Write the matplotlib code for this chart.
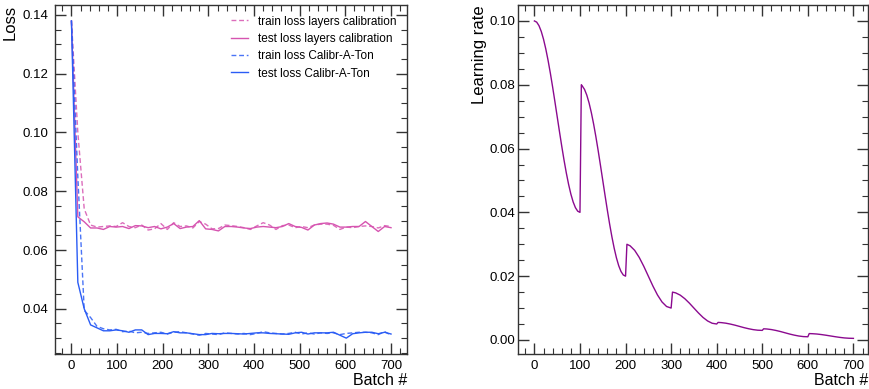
import matplotlib
matplotlib.use("Agg")
import matplotlib.pyplot as plt
from matplotlib.ticker import MultipleLocator

plt.rcParams['font.family'] = ['Liberation Sans', 'DejaVu Sans']

# ---- data ----
batches = list(range(0, 701, 14))

train_layers = [0.138, 0.100, 0.074, 0.0685, 0.0678, 0.0680, 0.0682, 0.0680, 0.0693, 0.0680,
                0.0676, 0.0685, 0.0668, 0.0672, 0.0690, 0.0670, 0.0693, 0.0680, 0.0682, 0.0675,
                0.0697, 0.0688, 0.0672, 0.0673, 0.0685, 0.0683, 0.0680, 0.0676, 0.0670, 0.0682,
                0.0693, 0.0685, 0.0670, 0.0683, 0.0685, 0.0676, 0.0680, 0.0676, 0.0685, 0.0688,
                0.0688, 0.0684, 0.0670, 0.0678, 0.0676, 0.0680, 0.0682, 0.0680, 0.0675, 0.0683,
                0.0680]
test_layers = [0.138, 0.0713, 0.0696, 0.0675, 0.0675, 0.0670, 0.0680, 0.0678, 0.0680, 0.0673,
               0.0683, 0.0682, 0.0676, 0.0680, 0.0672, 0.0678, 0.0690, 0.0673, 0.0678, 0.0680,
               0.0700, 0.0672, 0.0670, 0.0665, 0.0680, 0.0680, 0.0678, 0.0675, 0.0673, 0.0678,
               0.0680, 0.0678, 0.0676, 0.0680, 0.0690, 0.0680, 0.0677, 0.0668, 0.0685, 0.0690,
               0.0692, 0.0688, 0.0678, 0.0678, 0.0680, 0.0680, 0.0697, 0.0680, 0.0663, 0.0680,
               0.0676]
train_cat = [0.138, 0.085, 0.0395, 0.0370, 0.0340, 0.0332, 0.0328, 0.0330, 0.0322, 0.0324,
             0.0318, 0.0320, 0.0316, 0.0318, 0.0320, 0.0314, 0.0320, 0.0322, 0.0318, 0.0314,
             0.0310, 0.0316, 0.0314, 0.0312, 0.0318, 0.0316, 0.0314, 0.0316, 0.0312, 0.0316,
             0.0322, 0.0318, 0.0316, 0.0314, 0.0316, 0.0320, 0.0314, 0.0318, 0.0314, 0.0318,
             0.0316, 0.0318, 0.0312, 0.0316, 0.0318, 0.0320, 0.0320, 0.0318, 0.0312, 0.0322,
             0.0310]
test_cat = [0.138, 0.049, 0.0400, 0.0345, 0.0335, 0.0325, 0.0325, 0.0328, 0.0325, 0.0320,
            0.0328, 0.0328, 0.0312, 0.0316, 0.0316, 0.0315, 0.0322, 0.0318, 0.0318, 0.0315,
            0.0312, 0.0312, 0.0316, 0.0315, 0.0316, 0.0316, 0.0315, 0.0314, 0.0316, 0.0318,
            0.0318, 0.0316, 0.0315, 0.0314, 0.0313, 0.0318, 0.0320, 0.0314, 0.0318, 0.0318,
            0.0318, 0.0320, 0.0310, 0.0300, 0.0315, 0.0318, 0.0320, 0.0320, 0.0315, 0.0320,
            0.0314]

lr_batch = [0, 5, 10, 15, 20, 25, 30, 35, 40, 45, 50, 55, 60, 65, 70, 75, 80, 85, 90, 95, 100,
            103, 105, 110, 115, 120, 125, 130, 135, 140, 145, 150, 155, 160, 165, 170, 175, 180, 185, 190, 195, 200,
            203, 210, 220, 230, 240, 250, 260, 270, 280, 290, 300,
            303, 310, 320, 330, 340, 350, 360, 370, 380, 390, 400,
            403, 410, 420, 430, 440, 450, 460, 470, 480, 490, 500,
            503, 510, 520, 530, 540, 550, 560, 570, 580, 590, 600,
            603, 610, 620, 630, 640, 650, 660, 670, 680, 690, 700]
lr_value = [0.1, 0.09963, 0.09853, 0.09673, 0.09427, 0.09121, 0.08763, 0.08362, 0.07927, 0.07469, 0.07,
            0.06531, 0.06073, 0.05638, 0.05237, 0.04879, 0.04573, 0.04327, 0.04147, 0.04037, 0.04,
            0.08, 0.07963, 0.07853, 0.07673, 0.07427, 0.07121, 0.06763, 0.06362, 0.05927, 0.05469, 0.05,
            0.04531, 0.04073, 0.03638, 0.03237, 0.02879, 0.02573, 0.02327, 0.02147, 0.02037, 0.02,
            0.03, 0.02951, 0.02809, 0.02588, 0.02309, 0.02, 0.01691, 0.01412, 0.01191, 0.01049, 0.01,
            0.015, 0.01476, 0.01405, 0.01294, 0.01155, 0.01, 0.00846, 0.00706, 0.00596, 0.00524, 0.005,
            0.0055, 0.00544, 0.00526, 0.00498, 0.00464, 0.00425, 0.00386, 0.00352, 0.00324, 0.00306, 0.003,
            0.0035, 0.00344, 0.00326, 0.00298, 0.00264, 0.00225, 0.00186, 0.00152, 0.00124, 0.00106, 0.001,
            0.002, 0.00196, 0.00186, 0.00169, 0.00148, 0.00125, 0.00102, 0.00081, 0.00064, 0.00054, 0.0005]

labels = ["train loss layers calibration", "test loss layers calibration",
          "train loss Calibr-A-Ton", "test loss Calibr-A-Ton"]

PINK = '#d654b0'
BLUE = '#2a5cf5'
PURPLE = '#8b0a8f'

fig = plt.figure(figsize=(8.69, 3.89), dpi=100)
ax1 = fig.add_axes([55/869, 35/389, 352/869, 349/389])
ax2 = fig.add_axes([518/869, 35/389, 350/869, 349/389])

dash = (0, (3.5, 2))
ax1.plot(batches, train_layers, color=PINK, lw=1.0, ls=dash, alpha=0.85, label=labels[0])
ax1.plot(batches, test_layers, color=PINK, lw=1.0, label=labels[1])
ax1.plot(batches, train_cat, color=BLUE, lw=1.0, ls=dash, alpha=0.85, label=labels[2])
ax1.plot(batches, test_cat, color=BLUE, lw=1.0, label=labels[3])
ax1.set_xlim(-36, 735)
ax1.set_ylim(0.0246, 0.1434)
ax1.yaxis.set_major_locator(MultipleLocator(0.02))
ax1.yaxis.set_minor_locator(MultipleLocator(0.005))
ax1.set_ylabel("Loss", loc='top', fontsize=12, labelpad=3)
ax1.set_xlabel("Batch #", loc='right', fontsize=11.5, labelpad=1)
leg = ax1.legend(loc='upper right', frameon=False, fontsize=8.5, handlelength=1.5,
                 handletextpad=0.8, labelspacing=0.45, borderaxespad=0.5)

ax2.plot(lr_batch, lr_value, color=PURPLE, lw=1.0)
ax2.set_xlim(-36, 732)
ax2.set_ylim(-0.0044, 0.105)
ax2.yaxis.set_major_locator(MultipleLocator(0.02))
ax2.yaxis.set_minor_locator(MultipleLocator(0.005))
ax2.set_ylabel("Learning rate", loc='top', fontsize=12, labelpad=2)
ax2.set_xlabel("Batch #", loc='right', fontsize=11.5, labelpad=1)

for ax, ypad in ((ax1, 5), (ax2, 2)):
    ax.xaxis.set_major_locator(MultipleLocator(100))
    ax.xaxis.set_minor_locator(MultipleLocator(20))
    ax.tick_params(which='both', direction='in', top=True, right=True, labelsize=9.5, color='#333333')
    ax.tick_params(which='major', length=8, width=1.0)
    ax.tick_params(which='minor', length=4, width=0.8)
    ax.tick_params(axis='y', which='major', pad=ypad)
    ax.tick_params(axis='x', which='major', pad=4)
    for s in ax.spines.values():
        s.set_linewidth(1.0)
        s.set_color('#333333')

fig.savefig("out.png", dpi=100)
